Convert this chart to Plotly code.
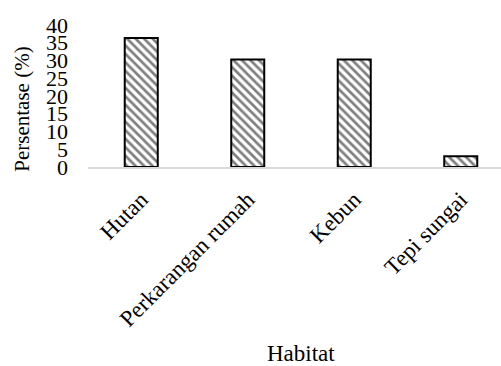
import plotly.graph_objects as go

# Habitat categories and share of records (%)
habitats = ["Hutan", "Perkarangan rumah", "Kebun", "Tepi sungai"]
persentase = [36.36, 30.30, 30.30, 3.03]
y_ticks = [0, 5, 10, 15, 20, 25, 30, 35, 40]

FONT = "Liberation Serif, Times New Roman, serif"

fig = go.Figure(
    go.Bar(
        x=list(range(len(habitats))),
        y=persentase,
        width=0.31,
        marker=dict(
            color="white",
            line=dict(color="black", width=2),
            pattern=dict(shape="\\", fgcolor="black", bgcolor="white", size=6, solidity=0.45),
        ),
    )
)

fig.update_layout(
    width=501,
    height=366,
    margin=dict(l=88, r=0, t=25, b=199),
    paper_bgcolor="white",
    plot_bgcolor="white",
    showlegend=False,
    font=dict(family=FONT, color="black"),
    xaxis=dict(
        range=[-0.5, 3.378],
        tickmode="array",
        tickvals=list(range(len(habitats))),
        ticktext=habitats,
        tickangle=-45,
        tickfont=dict(size=23, family=FONT, color="black"),
        showline=True,
        linecolor="#d9d9d9",
        linewidth=2,
        showgrid=False,
        zeroline=False,
        ticks="",
        ticklabelstandoff=8,
    ),
    yaxis=dict(
        range=[0, 40],
        tickmode="array",
        tickvals=y_ticks,
        tickfont=dict(size=22, family=FONT, color="black"),
        showline=False,
        showgrid=False,
        zeroline=False,
        ticks="",
        ticklabelstandoff=19,
    ),
    annotations=[
        dict(
            text="Persentase (%)",
            xref="paper", yref="paper",
            x=-0.16, y=0.41,
            xanchor="center", yanchor="middle",
            textangle=-90, showarrow=False,
            font=dict(size=21, family=FONT, color="black"),
        ),
        dict(
            text="Habitat",
            xref="x", yref="paper",
            x=1.5, y=-1.31,
            xanchor="center", yanchor="middle",
            showarrow=False,
            font=dict(size=23, family=FONT, color="black"),
        ),
    ],
)

fig.write_html("out.html")
